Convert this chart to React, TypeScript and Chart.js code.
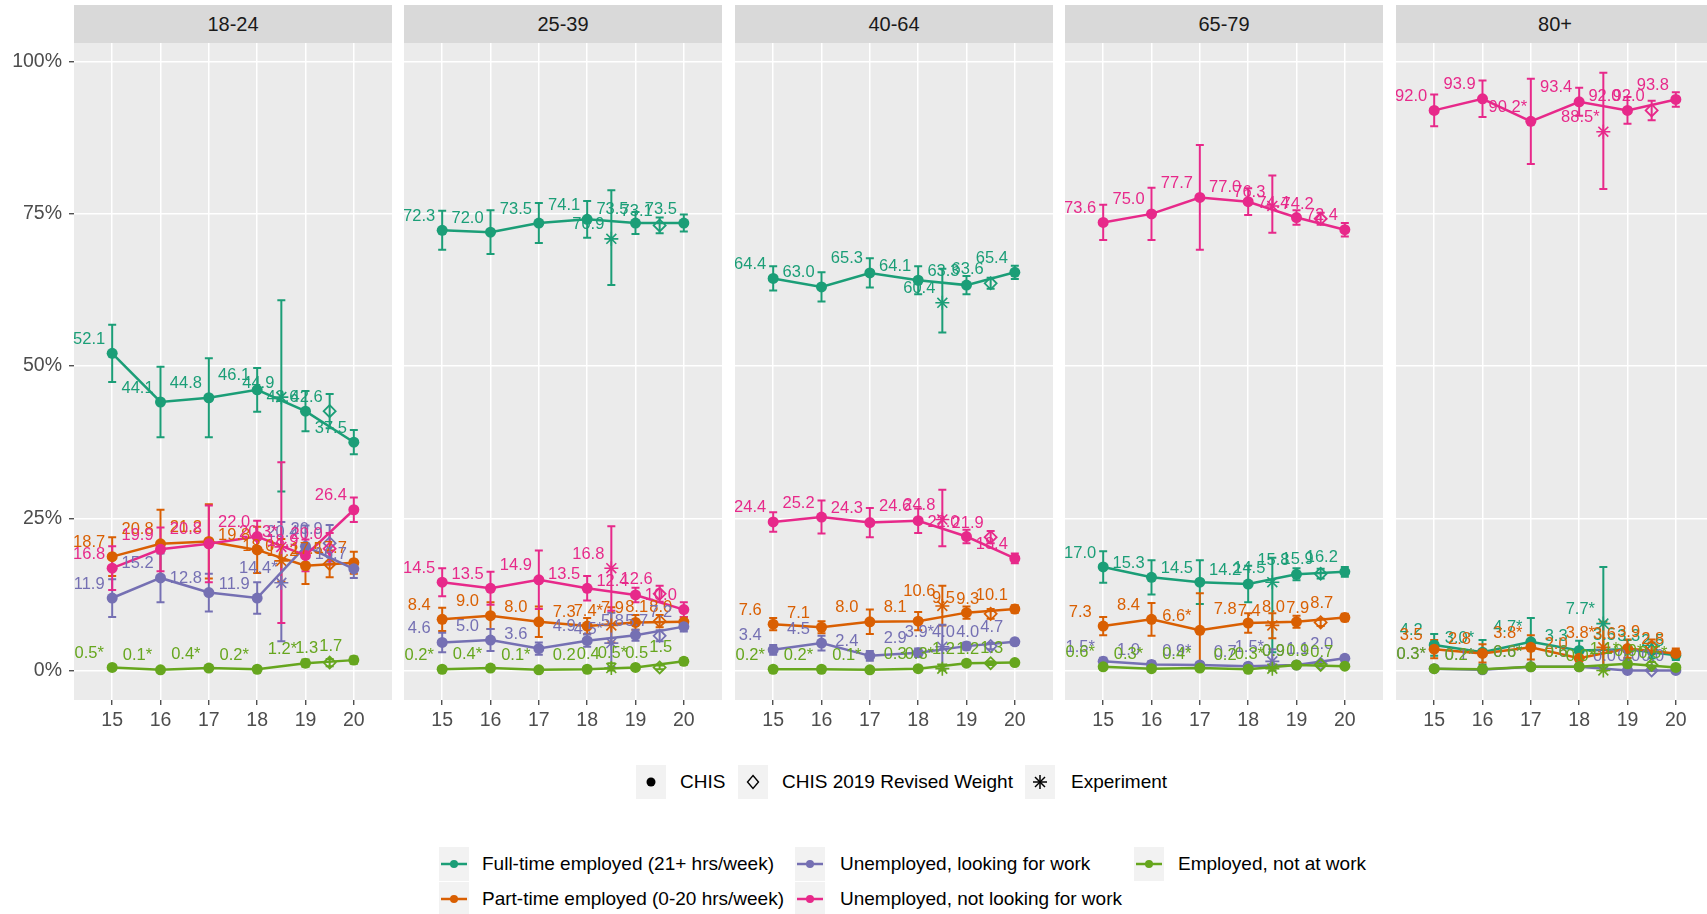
import React, { useEffect, useRef } from "react";
import { Chart, registerables } from "chart.js";

Chart.register(...registerables);

const FONT = "'Liberation Sans', Arial, Helvetica, sans-serif";
Chart.defaults.font.family = FONT;

// ---------- categories / ticks ----------
const AGE_GROUPS = ["18-24", "25-39", "40-64", "65-79", "80+"];
const YEARS = [15, 16, 17, 18, 19, 20];
const EXPERIMENT_X = 18.5;
const REVISED_X = 19.5;
const X_TICKS = [15, 16, 17, 18, 19, 20];
const Y_TICKS = [0, 25, 50, 75, 100];
const SERIES = [
  "Full-time employed (21+ hrs/week)",
  "Part-time employed (0-20 hrs/week)",
  "Unemployed, looking for work",
  "Unemployed, not looking for work",
  "Employed, not at work",
];
const SERIES_KEYS = ["FT", "PT", "UL", "UN", "EN"];
const COLORS = ["#1B9E77", "#D95F02", "#7570B3", "#E7298A", "#66A61E"];
const SHAPES = ["CHIS", "CHIS 2019 Revised Weight", "Experiment"];

// ---------- 18-24 ----------
const FT_1824 = [52.1, 44.1, 44.8, 46.1, 42.6, 37.5];
const FT_1824_ERR = [4.7, 5.8, 6.5, 3.6, 3.3, 2.0];
const PT_1824 = [18.7, 20.8, 21.2, 19.8, 17.2, 17.7];
const PT_1824_ERR = [3.2, 5.6, 6.1, 3.8, 3.0, 1.8];
const UL_1824 = [11.9, 15.2, 12.8, 11.9, 20.4, 16.7];
const UL_1824_ERR = [3.1, 4.0, 3.1, 2.6, 3.4, 1.5];
const UN_1824 = [16.8, 19.9, 20.8, 22.0, 18.9, 26.4];
const UN_1824_ERR = [3.6, 3.6, 6.3, 2.6, 2.6, 2.0];
const EN_1824 = [0.5, 0.1, 0.4, 0.2, 1.2, 1.7];
const EN_1824_ERR = [0.4, 0.2, 0.4, 0.3, 0.6, 0.6];
const EXP_1824 = [44.9, 18.0, 14.4, 20.3, null];
const EXP_1824_LO = [29.4, 14.6, 4.8, 7.8, null];
const EXP_1824_HI = [60.8, 21.6, 24.4, 34.2, null];
const REV_1824 = [42.6, 17.5, 20.9, 20.0, 1.3];
const REV_1824_ERR = [2.8, 2.2, 3.0, 2.6, 0.6];
const STARS_1824 = ["EN15", "EN16", "EN17", "EN18", "EN19", "ULexp", "UNexp"];

// ---------- 25-39 ----------
const FT_2539 = [72.3, 72.0, 73.5, 74.1, 73.5, 73.5];
const FT_2539_ERR = [3.2, 3.6, 3.3, 3.0, 1.8, 1.4];
const PT_2539 = [8.4, 9.0, 8.0, 7.3, 7.9, 8.0];
const PT_2539_ERR = [1.9, 2.2, 2.5, 1.3, 1.2, 0.8];
const UL_2539 = [4.6, 5.0, 3.6, 4.9, 5.8, 7.2];
const UL_2539_ERR = [1.6, 1.8, 1.0, 1.0, 0.9, 0.8];
const UN_2539 = [14.5, 13.5, 14.9, 13.5, 12.4, 10.0];
const UN_2539_ERR = [2.3, 2.7, 4.8, 2.0, 1.2, 1.2];
const EN_2539 = [0.2, 0.4, 0.1, 0.2, 0.5, 1.5];
const EN_2539_ERR = [0.3, 0.4, 0.2, 0.3, 0.4, 0.5];
const EXP_2539 = [70.9, 7.4, 4.5, 16.8, 0.4];
const EXP_2539_LO = [63.3, 4.6, 0.6, 9.8, 0.0];
const EXP_2539_HI = [78.9, 10.4, 9.5, 23.7, 1.2];
const REV_2539 = [73.1, 8.1, 5.7, 12.6, 0.5];
const REV_2539_ERR = [1.3, 1.0, 0.9, 1.3, 0.3];
const STARS_2539 = ["EN15", "EN16", "EN17", "EN19", "PTexp", "ULexp"];

// ---------- 40-64 ----------
const FT_4064 = [64.4, 63.0, 65.3, 64.1, 63.3, 65.4];
const FT_4064_ERR = [2.0, 2.4, 2.4, 2.3, 1.5, 1.1];
const PT_4064 = [7.6, 7.1, 8.0, 8.1, 9.5, 10.1];
const PT_4064_ERR = [1.0, 1.0, 2.0, 1.5, 1.0, 0.6];
const UL_4064 = [3.4, 4.5, 2.4, 2.9, 4.0, 4.7];
const UL_4064_ERR = [0.8, 1.2, 0.8, 0.7, 0.6, 0.5];
const UN_4064 = [24.4, 25.2, 24.3, 24.6, 22.0, 18.4];
const UN_4064_ERR = [1.6, 2.7, 2.4, 2.0, 1.1, 0.8];
const EN_4064 = [0.2, 0.2, 0.1, 0.3, 1.2, 1.3];
const EN_4064_ERR = [0.2, 0.2, 0.2, 0.3, 0.4, 0.3];
const EXP_4064 = [60.4, 10.6, 3.9, 24.8, 0.3];
const EXP_4064_LO = [55.5, 7.4, 0.3, 20.4, 0.0];
const EXP_4064_HI = [66.0, 13.9, 7.5, 29.7, 1.0];
const REV_4064 = [63.6, 9.3, 4.0, 21.9, 1.2];
const REV_4064_ERR = [0.9, 0.8, 0.5, 1.0, 0.3];
const STARS_4064 = ["EN15", "EN16", "EN17", "ULexp", "ENexp"];

// ---------- 65-79 ----------
const FT_6579 = [17.0, 15.3, 14.5, 14.2, 15.8, 16.2];
const FT_6579_ERR = [2.6, 2.8, 3.6, 3.0, 1.0, 0.8];
const PT_6579 = [7.3, 8.4, 6.6, 7.8, 8.0, 8.7];
const PT_6579_ERR = [1.5, 2.7, 6.1, 1.6, 1.0, 0.6];
const UL_6579 = [1.5, 1.0, 0.9, 0.7, 0.9, 2.0];
const UL_6579_ERR = [0.6, 0.5, 0.5, 0.4, 0.4, 0.4];
const UN_6579 = [73.6, 75.0, 77.7, 77.0, 74.4, 72.4];
const UN_6579_ERR = [2.9, 4.3, 8.6, 2.2, 1.2, 1.1];
const EN_6579 = [0.6, 0.3, 0.4, 0.2, 0.9, 0.7];
const EN_6579_ERR = [0.4, 0.3, 0.4, 0.2, 0.3, 0.2];
const EXP_6579 = [14.5, 7.4, 1.5, 76.3, 0.3];
const EXP_6579_LO = [3.0, 5.3, 0.0, 71.9, 0.0];
const EXP_6579_HI = [18.5, 9.4, 3.5, 81.3, 1.0];
const REV_6579 = [15.9, 7.9, 1.1, 74.2, 0.9];
const REV_6579_ERR = [0.8, 0.6, 0.4, 1.0, 0.2];
const STARS_6579 = ["PT17", "UL15", "UL17", "ULexp", "EN15", "EN16", "EN17", "ENexp"];

// ---------- 80+ ----------
const FT_80 = [4.2, 3.0, 4.7, 3.3, 3.5, 2.5];
const FT_80_ERR = [1.8, 2.0, 3.9, 1.6, 1.5, 0.8];
const PT_80 = [3.5, 2.8, 3.8, 2.0, 3.6, 2.8];
const PT_80_ERR = [1.5, 1.5, 2.0, 1.2, 1.5, 0.8];
const UL_80 = [0.3, 0.1, 0.6, 0.6, 0.0, 0.0];
const UL_80_ERR = [0.3, 0.2, 0.5, 0.4, 0.1, 0.1];
const UN_80 = [92.0, 93.9, 90.2, 93.4, 92.0, 93.8];
const UN_80_ERR = [2.6, 3.0, 7.0, 2.3, 2.2, 1.2];
const EN_80 = [0.3, 0.2, 0.6, 0.6, 1.1, 0.5];
const EN_80_ERR = [0.3, 0.2, 0.4, 0.4, 0.5, 0.3];
const EXP_80 = [7.7, 3.8, null, 88.5, 0.0];
const EXP_80_LO = [0.5, 0.0, null, 79.1, 0.0];
const EXP_80_HI = [17.0, 8.0, null, 98.2, 0.5];
const REV_80 = [3.3, 3.9, 0.0, 92.0, 0.9];
const REV_80_ERR = [1.3, 1.2, 0.1, 1.6, 0.5];
const STARS_80 = ["FT16", "FT17", "FTexp", "PT17", "PTexp", "UL15", "UL16", "UL17", "UN17", "UNexp", "EN15", "EN16", "EN17", "EN19", "ENexp", "ENrev", "EN20"];

// ---------- tables built from the arrays ----------
const PANELS = [
  { chis: [FT_1824, PT_1824, UL_1824, UN_1824, EN_1824], err: [FT_1824_ERR, PT_1824_ERR, UL_1824_ERR, UN_1824_ERR, EN_1824_ERR], exp: EXP_1824, expLo: EXP_1824_LO, expHi: EXP_1824_HI, rev: REV_1824, revErr: REV_1824_ERR, stars: STARS_1824 },
  { chis: [FT_2539, PT_2539, UL_2539, UN_2539, EN_2539], err: [FT_2539_ERR, PT_2539_ERR, UL_2539_ERR, UN_2539_ERR, EN_2539_ERR], exp: EXP_2539, expLo: EXP_2539_LO, expHi: EXP_2539_HI, rev: REV_2539, revErr: REV_2539_ERR, stars: STARS_2539 },
  { chis: [FT_4064, PT_4064, UL_4064, UN_4064, EN_4064], err: [FT_4064_ERR, PT_4064_ERR, UL_4064_ERR, UN_4064_ERR, EN_4064_ERR], exp: EXP_4064, expLo: EXP_4064_LO, expHi: EXP_4064_HI, rev: REV_4064, revErr: REV_4064_ERR, stars: STARS_4064 },
  { chis: [FT_6579, PT_6579, UL_6579, UN_6579, EN_6579], err: [FT_6579_ERR, PT_6579_ERR, UL_6579_ERR, UN_6579_ERR, EN_6579_ERR], exp: EXP_6579, expLo: EXP_6579_LO, expHi: EXP_6579_HI, rev: REV_6579, revErr: REV_6579_ERR, stars: STARS_6579 },
  { chis: [FT_80, PT_80, UL_80, UN_80, EN_80], err: [FT_80_ERR, PT_80_ERR, UL_80_ERR, UN_80_ERR, EN_80_ERR], exp: EXP_80, expLo: EXP_80_LO, expHi: EXP_80_HI, rev: REV_80, revErr: REV_80_ERR, stars: STARS_80 },
];

// ---------- layout ----------
const PANEL_LEFTS = [74, 404, 735, 1065, 1396];
const PANEL_W = 318;
const PANEL_TOP = 43;
const PANEL_H = 657;
const AXIS_H = 43;
const YAXIS_W = 74;
const X_MIN = 14.21;
const X_MAX = 20.79;
const Y_MIN = -4.85;
const Y_MAX = 103.07;

const fmt = (v: number, star: boolean) => v.toFixed(1) + (star ? "*" : "");

const decorPlugin = {
  id: "decor",
  beforeDraw(chart: any) {
    const { ctx, chartArea: a } = chart;
    ctx.save();
    ctx.fillStyle = "#EBEBEB";
    ctx.fillRect(a.left, a.top, a.right - a.left, a.bottom - a.top);
    ctx.restore();
  },
  beforeDatasetsDraw(chart: any) {
    const { ctx } = chart;
    const xs = chart.scales.x;
    const ys = chart.scales.y;
    ctx.save();
    ctx.lineWidth = 2;
    ctx.lineCap = "butt";
    chart.data.datasets.forEach((ds: any) => {
      ctx.strokeStyle = ds.color;
      ds.data.forEach((pt: any, i: number) => {
        const lo = ds.errLo[i];
        const hi = ds.errHi[i];
        if (lo == null || hi == null) return;
        const x = xs.getPixelForValue(pt.x);
        const y1 = ys.getPixelForValue(lo);
        const y2 = ys.getPixelForValue(hi);
        ctx.beginPath();
        ctx.moveTo(x, y1);
        ctx.lineTo(x, y2);
        ctx.moveTo(x - 4, y1);
        ctx.lineTo(x + 4, y1);
        ctx.moveTo(x - 4, y2);
        ctx.lineTo(x + 4, y2);
        ctx.stroke();
      });
    });
    ctx.restore();
  },
  afterDatasetsDraw(chart: any) {
    const { ctx } = chart;
    const xs = chart.scales.x;
    const ys = chart.scales.y;
    ctx.save();
    ctx.font = `16.5px ${FONT}`;
    ctx.textAlign = "center";
    ctx.textBaseline = "middle";
    chart.data.datasets.forEach((ds: any) => {
      ctx.fillStyle = ds.color;
      ds.data.forEach((pt: any, i: number) => {
        const x = xs.getPixelForValue(pt.x);
        const y = ys.getPixelForValue(pt.y);
        ctx.fillText(ds.txt[i], x - 23, y - 14);
      });
    });
    ctx.restore();
  },
};

function buildConfig(pi: number): any {
  const P = PANELS[pi];
  const first = pi === 0;
  const datasets: any[] = [];
  SERIES_KEYS.forEach((key, s) => {
    const color = COLORS[s];
    const vals = P.chis[s];
    const err = P.err[s];
    datasets.push({
      label: SERIES[s] + " – " + SHAPES[0],
      data: YEARS.map((x, i) => ({ x, y: vals[i] })),
      borderColor: color,
      backgroundColor: color,
      borderWidth: 2.5,
      pointStyle: "circle",
      pointRadius: 5.5,
      pointBorderWidth: 0,
      pointBackgroundColor: color,
      showLine: true,
      tension: 0,
      order: -s * 3,
      errLo: vals.map((v, i) => v - err[i]),
      errHi: vals.map((v, i) => v + err[i]),
      txt: vals.map((v, i) => fmt(v, P.stars.includes(key + YEARS[i]))),
      color,
    });
    const ev = P.exp[s];
    if (ev != null) {
      datasets.push({
        label: SERIES[s] + " – " + SHAPES[2],
        data: [{ x: EXPERIMENT_X, y: ev }],
        showLine: false,
        pointStyle: "star",
        pointRadius: 7,
        borderColor: color,
        backgroundColor: color,
        pointBorderColor: color,
        pointBorderWidth: 1.6,
        borderWidth: 1.6,
        order: -s * 3 - 1,
        errLo: [P.expLo[s]],
        errHi: [P.expHi[s]],
        txt: [fmt(ev, P.stars.includes(key + "exp"))],
        color,
      });
    }
    const rv = P.rev[s];
    datasets.push({
      label: SERIES[s] + " – " + SHAPES[1],
      data: [{ x: REVISED_X, y: rv }],
      showLine: false,
      pointStyle: "rectRot",
      pointRadius: 6,
      borderColor: color,
      backgroundColor: "rgba(0,0,0,0)",
      pointBackgroundColor: "rgba(0,0,0,0)",
      pointBorderColor: color,
      pointBorderWidth: 1.8,
      borderWidth: 1.8,
      order: -s * 3 - 2,
      errLo: [rv - P.revErr[s]],
      errHi: [rv + P.revErr[s]],
      txt: [fmt(rv, P.stars.includes(key + "rev"))],
      color,
    });
  });

  return {
    type: "line",
    data: { datasets },
    options: {
      animation: false,
      responsive: false,
      maintainAspectRatio: false,
      events: [],
      layout: { padding: 0, autoPadding: false },
      plugins: {
        legend: { display: false },
        tooltip: { enabled: false },
        title: { display: false },
      },
      scales: {
        x: {
          type: "linear",
          min: X_MIN,
          max: X_MAX,
          afterBuildTicks: (sc: any) => {
            sc.ticks = X_TICKS.map((v) => ({ value: v }));
          },
          afterFit: (sc: any) => {
            sc.height = AXIS_H;
            sc.paddingLeft = 0;
            sc.paddingRight = 0;
            sc.paddingTop = 0;
            sc.paddingBottom = 0;
          },
          grid: {
            color: "#FFFFFF",
            lineWidth: 1.5,
            drawTicks: true,
            tickLength: 5,
            tickColor: "#333333",
            tickWidth: 1.2,
          },
          border: { display: false },
          ticks: {
            font: { family: FONT, size: 19.5 },
            color: "#4D4D4D",
            padding: 4,
            maxRotation: 0,
            autoSkip: false,
            callback: (v: any) => String(v),
          },
        },
        y: {
          type: "linear",
          min: Y_MIN,
          max: Y_MAX,
          afterBuildTicks: (sc: any) => {
            sc.ticks = Y_TICKS.map((v) => ({ value: v }));
          },
          afterFit: (sc: any) => {
            sc.width = first ? YAXIS_W : 0;
            sc.paddingLeft = 0;
            sc.paddingRight = 0;
            sc.paddingTop = 0;
            sc.paddingBottom = 0;
          },
          grid: {
            color: "#FFFFFF",
            lineWidth: 1.5,
            drawTicks: first,
            tickLength: 5,
            tickColor: "#333333",
            tickWidth: 1.2,
          },
          border: { display: false },
          ticks: {
            display: first,
            font: { family: FONT, size: 19.5 },
            color: "#4D4D4D",
            padding: 7,
            callback: (v: any) => v + "%",
          },
        },
      },
    },
    plugins: [decorPlugin],
  };
}

function Panel({ idx }: { idx: number }) {
  const ref = useRef<HTMLCanvasElement>(null);
  useEffect(() => {
    const chart = new Chart(ref.current as HTMLCanvasElement, buildConfig(idx));
    return () => chart.destroy();
  }, [idx]);
  const left = idx === 0 ? PANEL_LEFTS[0] - YAXIS_W : PANEL_LEFTS[idx];
  const width = idx === 0 ? YAXIS_W + PANEL_W : PANEL_W;
  const height = PANEL_H + AXIS_H;
  return (
    <canvas
      ref={ref}
      width={width}
      height={height}
      style={{ position: "absolute", left, top: PANEL_TOP, width, height, display: "block" }}
    />
  );
}

function ShapeGlyph({ kind }: { kind: string }) {
  if (kind === "circle") return <circle cx={15} cy={17} r={4.5} fill="#000" />;
  if (kind === "diamond")
    return <polygon points="15,10.5 20.5,17 15,23.5 9.5,17" fill="none" stroke="#000" strokeWidth={1.4} />;
  return (
    <g stroke="#000" strokeWidth={1.5}>
      <line x1={15} y1={10} x2={15} y2={24} />
      <line x1={8} y1={17} x2={22} y2={17} />
      <line x1={10} y1={12} x2={20} y2={22} />
      <line x1={10} y1={22} x2={20} y2={12} />
    </g>
  );
}

const textStyle: React.CSSProperties = {
  position: "absolute",
  fontFamily: FONT,
  fontSize: 19,
  lineHeight: "24px",
  color: "#000",
  whiteSpace: "nowrap",
};

function Legends() {
  const shapeBoxes = [636, 738, 1025];
  const shapeTexts = [680, 782, 1071];
  const shapeKinds = ["circle", "diamond", "star"];
  const legend1Y = 782;
  const colBoxes = [439, 795, 1134];
  const colTexts = [482, 840, 1178];
  const rowY = [864, 899];
  return (
    <>
      {SHAPES.map((name, i) => (
        <React.Fragment key={name}>
          <svg
            width={30}
            height={34}
            style={{ position: "absolute", left: shapeBoxes[i], top: legend1Y - 17, background: "#F2F2F2" }}
          >
            <ShapeGlyph kind={shapeKinds[i]} />
          </svg>
          <div style={{ ...textStyle, left: shapeTexts[i], top: legend1Y - 12 }}>{name}</div>
        </React.Fragment>
      ))}
      {SERIES.map((name, s) => {
        const col = Math.floor(s / 2);
        const row = s % 2;
        return (
          <React.Fragment key={name}>
            <svg
              width={30}
              height={34}
              style={{ position: "absolute", left: colBoxes[col], top: rowY[row] - 17, background: "#F2F2F2" }}
            >
              <line x1={2} y1={17} x2={28} y2={17} stroke={COLORS[s]} strokeWidth={2.5} />
              <circle cx={15} cy={17} r={4} fill={COLORS[s]} />
            </svg>
            <div style={{ ...textStyle, left: colTexts[col], top: rowY[row] - 12 }}>{name}</div>
          </React.Fragment>
        );
      })}
    </>
  );
}

export default function App() {
  return (
    <div
      style={{
        position: "fixed",
        left: 0,
        top: 0,
        width: 1707,
        height: 914,
        overflow: "hidden",
        background: "#FFFFFF",
      }}
    >
      {AGE_GROUPS.map((g, i) => (
        <div
          key={g}
          style={{
            position: "absolute",
            left: PANEL_LEFTS[i],
            top: 5,
            width: PANEL_W,
            height: 38,
            background: "#D9D9D9",
            color: "#1A1A1A",
            fontFamily: FONT,
            fontSize: 20,
            lineHeight: "38px",
            textAlign: "center",
          }}
        >
          {g}
        </div>
      ))}
      {AGE_GROUPS.map((g, i) => (
        <Panel key={"p" + g} idx={i} />
      ))}
      <Legends />
    </div>
  );
}
